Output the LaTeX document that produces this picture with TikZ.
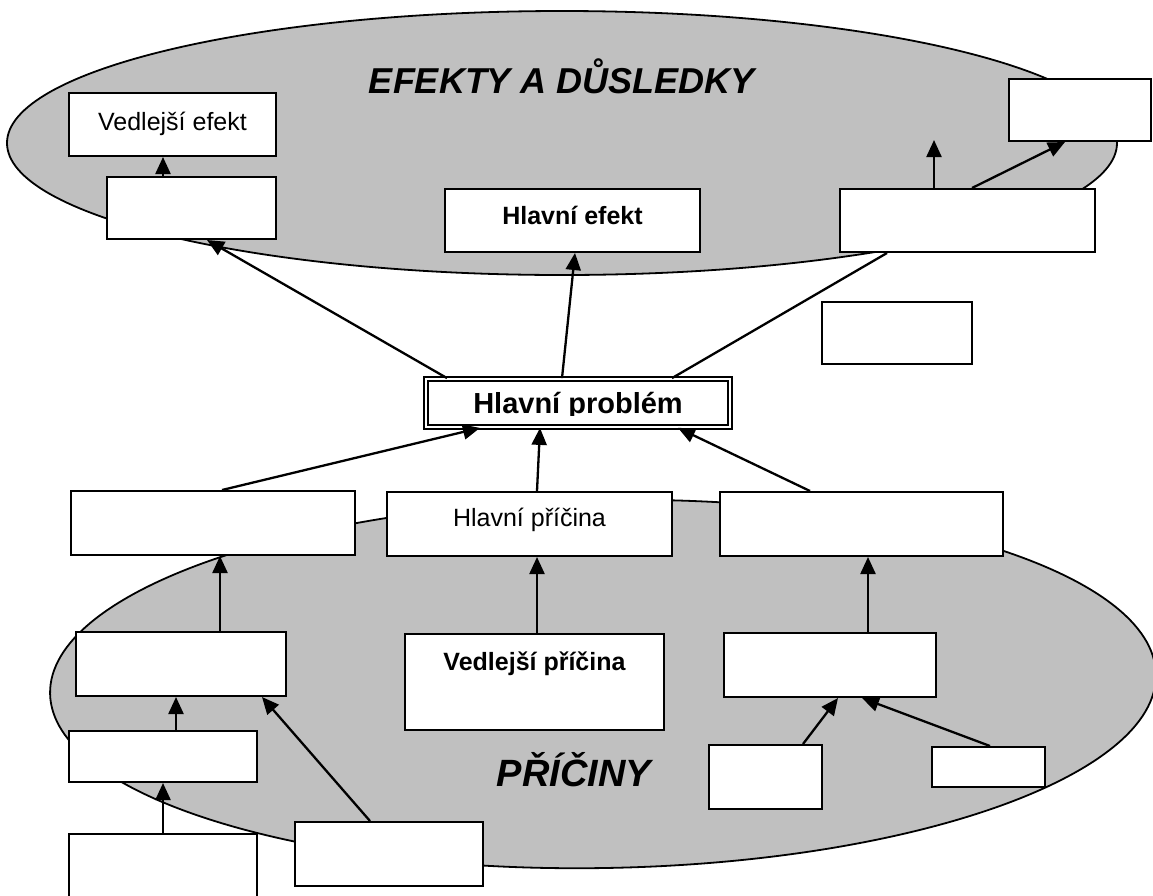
\documentclass[tikz,border=0pt]{standalone}
\usepackage{fontspec}
\setmainfont{Liberation Sans}
\usetikzlibrary{arrows.meta,shapes.geometric}
\definecolor{regiongray}{RGB}{192,192,192}

\begin{document}
\begin{tikzpicture}[x=1pt,y=-1pt,
  region/.style={ellipse, draw=black, line width=1.8pt, fill=regiongray, inner sep=0pt},
  box/.style={rectangle, draw=black, line width=2pt, fill=white, inner sep=0pt,
              font=\fontsize{25}{30}\selectfont, text height=18pt},
  arr/.style={line width=2.3pt, -{Triangle[length=17pt,width=15pt]}},
  link/.style={line width=2.3pt},
  heading/.style={font=\fontsize{36}{42}\selectfont\bfseries\itshape, inner sep=0pt, anchor=base},
]
\useasboundingbox (0,0) rectangle (1153,895);
\clip (0,0) rectangle (1153,895);
\fill[white] (0,0) rectangle (1153,895);

% the two regions
\node[region, minimum width=1110pt, minimum height=264pt] (effects) at (562,143) {};
\node[region, minimum width=1106pt, minimum height=368pt, rotate=1] (causes) at (603,684) {};

\node[heading] (effhead) at (562,93) {EFEKTY A DŮSLEDKY};
\node[heading, font=\fontsize{38}{44}\selectfont\bfseries\itshape] (causehead) at (574,786) {PŘÍČINY};

% effects
\node[box, minimum width=207pt, minimum height=63pt, text depth=7pt] (b1) at (172.5,124.5) {Vedlejší efekt};
\node[box, minimum width=169pt, minimum height=62pt] (b2) at (191.5,208) {};
\node[box, minimum width=255pt, minimum height=63pt, text depth=11pt, font=\fontsize{25}{30}\selectfont\bfseries] (b3) at (572.5,220.5) {Hlavní efekt};
\node[box, minimum width=142pt, minimum height=62pt] (b4) at (1080,110) {};
\node[box, minimum width=255pt, minimum height=63pt] (b5) at (967.5,220.5) {};
\node[box, minimum width=150pt, minimum height=62pt] (b6) at (897,333) {};

% core problem
\node[box, line width=1.8pt, double=white, double distance=2.4pt, minimum width=304pt, minimum height=48pt] (prob) at (578,403) {};
\begin{scope}
  \clip (423,370) rectangle (733,415.5);
  \node[anchor=base, inner sep=0pt, font=\fontsize{29}{34}\selectfont\bfseries] (probtext) at (578,413) {Hlavní problém};
\end{scope}

% causes
\node[box, minimum width=284pt, minimum height=64pt] (b7) at (213,523) {};
\node[box, minimum width=285pt, minimum height=64pt, text depth=14pt] (b8) at (529.5,524) {Hlavní příčina};
\node[box, minimum width=283pt, minimum height=64pt] (b9) at (861.5,524) {};
\node[box, minimum width=210pt, minimum height=64pt] (b10) at (181,664) {};
\node[box, minimum width=259pt, minimum height=96pt, text depth=42pt, font=\fontsize{25}{30}\selectfont\bfseries] (b11) at (534.5,682) {Vedlejší příčina};
\node[box, minimum width=212pt, minimum height=64pt] (b12) at (830,665) {};
\node[box, minimum width=188pt, minimum height=51pt] (b13) at (163,756.5) {};
\node[box, minimum width=188pt, minimum height=66pt] (b14) at (163,867) {};
\node[box, minimum width=188pt, minimum height=64pt] (b15) at (389,854) {};
\node[box, minimum width=113pt, minimum height=64pt] (b16) at (765.5,777) {};
\node[box, minimum width=113pt, minimum height=40pt] (b17) at (988.5,767) {};

\coordinate (freetip) at (934,140);

% connectors: effects side
\draw[arr] ([xshift=-28.5pt]b2.north) -- ([xshift=-9.5pt]b1.south);
\draw[arr] ([xshift=-33.5pt]b5.north) -- (freetip);
\draw[arr] ([xshift=4.5pt]b5.north) -- ([xshift=-15pt]b4.south);
\draw[arr] ([xshift=-131pt]prob.north) -- ([xshift=15.5pt]b2.south);
\draw[arr] ([xshift=-16pt]prob.north) -- ([xshift=2.5pt]b3.south);
\draw[link] ([xshift=94pt]prob.north) -- ([xshift=-80.5pt]b5.south);

% connectors: causes side
\draw[arr] ([xshift=9pt]b7.north) -- ([xshift=-98pt]prob.south);
\draw[arr] ([xshift=7.5pt]b8.north) -- ([xshift=-38pt]prob.south);
\draw[arr] ([xshift=-51.5pt]b9.north) -- ([xshift=100pt]prob.south);
\draw[arr] ([xshift=39pt]b10.north) -- ([xshift=7pt]b7.south);
\draw[arr] ([xshift=2.5pt]b11.north) -- ([xshift=7.5pt]b8.south);
\draw[arr] ([xshift=38pt]b12.north) -- ([xshift=6.5pt]b9.south);
\draw[arr] ([xshift=13pt]b13.north) -- ([xshift=-5pt]b10.south);
\draw[arr] (b14.north) -- (b13.south);
\draw[arr] ([xshift=-19pt]b15.north) -- ([xshift=81pt]b10.south);
\draw[arr] ([xshift=37.5pt]b16.north) -- ([xshift=8pt]b12.south);
\draw[arr] ([xshift=1.5pt]b17.north) -- ([xshift=32pt]b12.south);
\end{tikzpicture}
\end{document}
